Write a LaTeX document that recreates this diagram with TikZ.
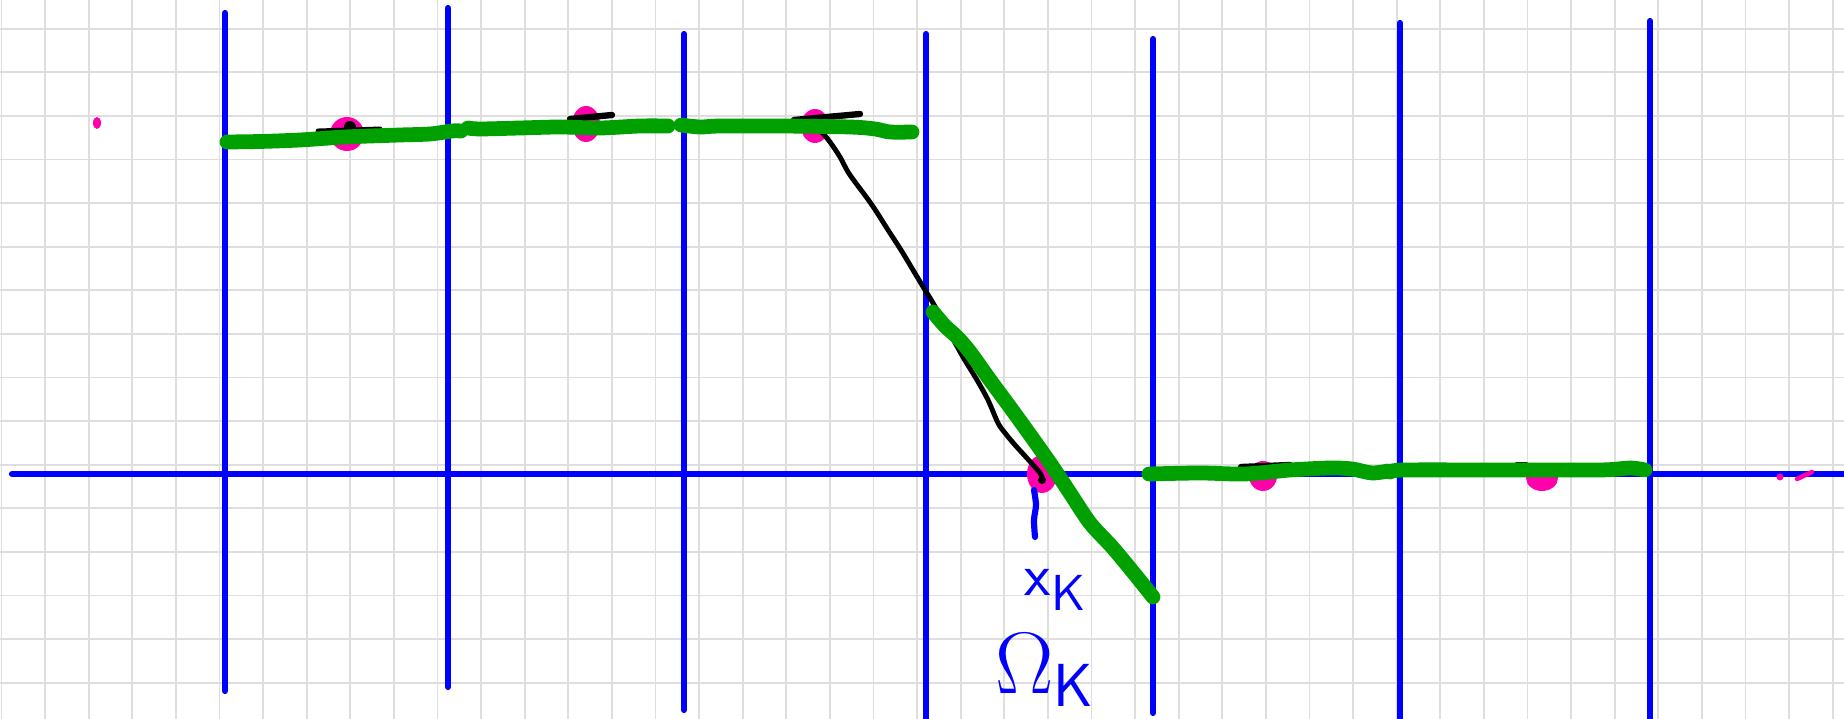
\documentclass[tikz,border=0pt]{standalone}
\definecolor{pen}{RGB}{0,0,255}
\definecolor{grn}{RGB}{0,160,0}
\definecolor{pnk}{RGB}{255,0,170}
\definecolor{gridc}{RGB}{222,222,222}
\begin{document}
\begin{tikzpicture}[x=0.01cm,y=-0.01cm, line cap=round, line join=round,
 gridline/.style={draw=gridc, line width=0.55pt},
 blueline/.style={draw=pen, line width=1.75pt},
 greenstroke/.style={draw=grn, line width=4.2pt},
 blackstroke/.style={draw=black, line width=1.4pt},
 blob/.style={fill=pnk},
 lbl/.style={text=pen, inner sep=0pt}]
\useasboundingbox (0,0) rectangle (1844,719);
\fill[white] (0,0) rectangle (1844,719);
% grid
\foreach \k in {0,...,42} \draw[gridline] ({1.5+43.6*\k},0) -- ({1.5+43.6*\k},719);
\foreach \k in {0,...,15} \draw[gridline] (0,{28.7+43.6*\k}) -- (1844,{28.7+43.6*\k});
% axis and verticals
\draw[blueline] (12,474) -- (1850,474);
\draw[blueline] (225,13) -- (225,691);
\draw[blueline] (448,8) -- (448,687);
\draw[blueline] (684,34) -- (684,710);
\draw[blueline] (926,34) -- (926,730);
\draw[blueline] (1153,39) -- (1153,713);
\draw[blueline] (1400,23) -- (1400,730);
\draw[blueline] (1650,21) -- (1650,730);
% pink blobs
\fill[blob] (347,134) ellipse [x radius=17, y radius=17];
\fill[blob] (586,124) ellipse [x radius=14, y radius=18];
\fill[blob] (815,126) ellipse [x radius=14, y radius=17];
\fill[blob] (1042,474) ellipse [x radius=15, y radius=19];
\fill[blob] (1263,476) ellipse [x radius=14, y radius=15];
\fill[blob] (1542,478) ellipse [x radius=16, y radius=13];
\fill[blob] (97,123) ellipse [x radius=4, y radius=6];
\fill[blob] (1780,477) circle (3.5);
\draw[draw=pnk, line width=1.3pt] (1797,479) -- (1812,472);
% black strokes
\draw[blackstroke] (318,131) -- (380,129);
\fill (350,127) circle (6);
\draw[blackstroke, line width=1.8pt] (570,119) -- (612,115);
\draw[blackstroke, line width=1.8pt] (794,120) -- (860,114);
\draw[blackstroke] plot[smooth] coordinates {(820,130) (830,142) (840,157) (848,172) (858,186) (867,198) (876,211) (888,230) (901,250) (913,270) (925,290) (933,303) (948,330) (963,357) (977,380) (988,400) (998,423) (1005,433) (1015,445) (1025,456) (1040,473) (1043,481)};
\fill (1042,480) circle (4);
\draw[blackstroke, line width=1.8pt] (1241,467) -- (1290,465);
\draw[blackstroke, line width=1.8pt] (1517,465) -- (1526,465);
\draw[blackstroke] (1526,469) -- (1562,469);
% green strokes
\draw[greenstroke] plot[smooth] coordinates {(227,142) (260,141.5) (300,140) (345,137) (400,135) (430,134) (452,131) (461,131)};
\draw[greenstroke] plot[smooth] coordinates {(468,128) (480,129) (520,128) (560,127) (600,128) (640,126) (668,126)};
\draw[greenstroke] plot[smooth] coordinates {(681,125) (700,127) (720,126) (780,126) (850,127) (875,129) (890,132) (912,132)};
\draw[greenstroke] plot[smooth] coordinates {(933,312) (945,326) (957,337) (970,352) (990,380) (1007,403) (1023,425) (1050,463) (1070,493) (1090,523) (1113,548) (1137,577) (1153,597)};
\draw[greenstroke] plot[smooth] coordinates {(1149,474) (1200,473) (1245,474) (1290,470) (1330,468) (1352,469) (1372,473) (1388,471)};
\draw[greenstroke] plot[smooth] coordinates {(1390,472) (1405,470) (1500,470) (1600,470) (1630,468) (1645,470)};
% tick and labels
\draw[blueline] plot[smooth] coordinates {(1034,490) (1036,505) (1034,520) (1035,537)};
\node[lbl, font=\fontsize{19}{22}\selectfont] (xk) at (1056,590) {$\mathsf{x}_{\mathsf{K}}$};
\node[lbl, font=\fontsize{25}{28}\selectfont] (omk) at (1045,670) {$\Omega_{\mathsf{K}}$};
\end{tikzpicture}
\end{document}
